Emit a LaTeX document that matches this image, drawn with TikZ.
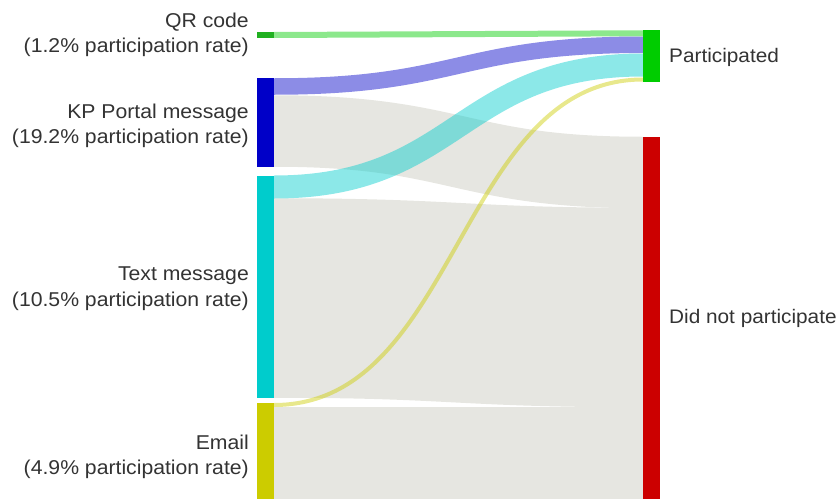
\documentclass[tikz,border=0pt]{standalone}
\usepackage{fontspec}
\setmainfont{Liberation Sans}[FakeStretch=1.06]
\definecolor{txt}{HTML}{333333}
\definecolor{cqr}{HTML}{20B020}
\definecolor{cpart}{HTML}{00CC00}
\definecolor{ckp}{HTML}{0000C8}
\definecolor{ctext}{HTML}{00CCCC}
\definecolor{cmail}{HTML}{CCCC00}
\definecolor{cnot}{HTML}{CC0000}
\definecolor{cgray}{HTML}{E6E6E1}
% flow: left centre, right centre, width, style
\newcommand\sflow[4]{\draw[line cap=butt, line width=#3pt, #4] (274,#1) .. controls (458.5,#1) and (458.5,#2) .. (643,#2);}
\begin{document}
\begin{tikzpicture}[x=1pt,y=-1pt,
  bar/.style={inner sep=0pt, outer sep=0pt, minimum width=17pt, anchor=north west, draw=none},
  lab/.style={inner sep=0pt, text=txt, font=\fontsize{20}{25.5}\selectfont},
  rlab/.style={inner sep=0pt, text=txt, font=\fontsize{19.6}{24}\selectfont},
  grayflow/.style={draw=cgray},
  colflow/.style={draw=#1, draw opacity=0.45}]
\useasboundingbox (0,0) rectangle (838,498);
\begin{scope}
\clip (0,0) rectangle (838,498);
% gray flows (did not participate)
\sflow{131}{172.5}{71.5}{grayflow}
\sflow{298}{307.5}{199.5}{grayflow}
\sflow{457}{457}{100}{grayflow}
% coloured flows (participated)
\sflow{35}{33.25}{6}{colflow=cpart}
\sflow{86.5}{44.75}{16.5}{colflow=ckp}
\sflow{187}{65}{23}{colflow=ctext}
\sflow{405}{79.5}{4}{colflow=cmail}
% nodes
\node[bar, fill=cqr, minimum height=6pt] (qr) at (257,32) {};
\node[bar, fill=ckp, minimum height=89pt] (kp) at (257,78) {};
\node[bar, fill=ctext, minimum height=222pt] (tm) at (257,176) {};
\node[bar, fill=cmail, minimum height=97pt] (em) at (257,403) {};
\node[bar, fill=cpart, minimum height=52pt] (pa) at (643,30) {};
\node[bar, fill=cnot, minimum height=363pt] (dn) at (643,137) {};
\end{scope}
% labels
\node[lab, align=right, anchor=east] (lqr) at (249,35) {QR code\\(1.2\% participation rate)};
\node[lab, align=right, anchor=east] (lkp) at (249,125.8) {KP Portal message\\(19.2\% participation rate)};
\node[lab, align=right, anchor=east] (ltm) at (249,288.5) {Text message\\(10.5\% participation rate)};
\node[lab, align=right, anchor=east] (lem) at (249,457) {Email\\(4.9\% participation rate)};
\node[rlab, anchor=base west] (lpa) at (669,62.7) {Participated};
\node[rlab, anchor=base west] (ldn) at (669,323.3) {Did not participate};
\end{tikzpicture}
\end{document}
